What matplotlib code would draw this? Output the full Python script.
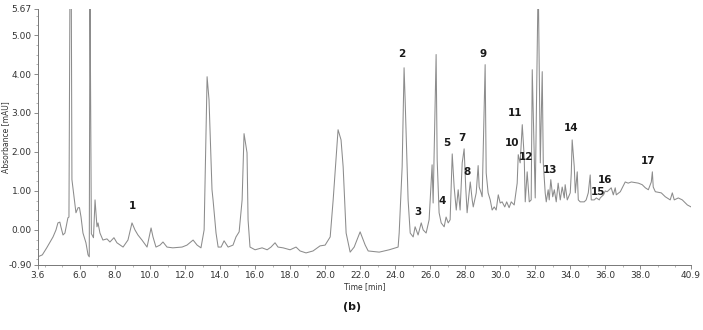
import numpy as np
import matplotlib
matplotlib.use("Agg")
import matplotlib.pyplot as plt
from matplotlib.ticker import MultipleLocator

# chromatogram trace: time (min) and absorbance (mAU)
time = [3.60, 3.85, 4.10, 4.46, 4.63, 4.74, 4.85, 4.91, 5.03, 5.14, 5.31, 5.37,
        5.43, 5.50, 5.54, 5.66, 5.77, 5.89, 5.97, 6.06, 6.17, 6.34, 6.46, 6.53,
        6.57, 6.65, 6.69, 6.77, 6.86, 6.97, 7.03, 7.14, 7.31, 7.54, 7.71, 7.94,
        8.11, 8.46, 8.74, 8.97, 9.14, 9.31, 9.54, 9.83, 10.06, 10.17, 10.34,
        10.57, 10.74, 10.97, 11.30, 11.83, 12.11, 12.46, 12.69, 12.91, 13.09,
        13.26, 13.37, 13.54, 13.60, 13.77, 13.89, 14.06, 14.23, 14.46, 14.74,
        14.91, 15.09, 15.26, 15.37, 15.54, 15.60, 15.71, 16.00, 16.40, 16.69,
        16.91, 17.14, 17.31, 17.60, 18.00, 18.34, 18.57, 18.91, 19.31, 19.71,
        20.00, 20.29, 20.46, 20.74, 20.91, 21.03, 21.20, 21.43, 21.66, 22.00,
        22.29, 22.46, 23.09, 23.66, 24.17, 24.23, 24.40, 24.51, 24.57, 24.74,
        24.86, 25.03, 25.14, 25.31, 25.49, 25.60, 25.77, 25.94, 26.11, 26.17,
        26.34, 26.40, 26.51, 26.63, 26.80, 26.91, 27.03, 27.14, 27.26, 27.37,
        27.49, 27.60, 27.71, 27.83, 27.94, 28.03, 28.11, 28.29, 28.40, 28.46,
        28.63, 28.74, 28.80, 28.91, 28.97, 29.14, 29.20, 29.31, 29.43, 29.54,
        29.66, 29.77, 29.89, 30.00, 30.11, 30.26, 30.37, 30.51, 30.63, 30.80,
        30.97, 31.03, 31.14, 31.26, 31.37, 31.43, 31.54, 31.66, 31.77, 31.83,
        32.00, 32.17, 32.29, 32.40, 32.46, 32.57, 32.63, 32.74, 32.80, 32.89,
        33.00, 33.09, 33.20, 33.31, 33.43, 33.54, 33.66, 33.71, 33.83, 34.00,
        34.06, 34.11, 34.23, 34.29, 34.40, 34.46, 34.57, 34.80, 34.91, 35.03,
        35.14, 35.20, 35.37, 35.49, 35.66, 35.71, 35.90, 36.00, 36.11, 36.34,
        36.46, 36.57, 36.63, 36.86, 37.14, 37.31, 37.49, 37.89, 38.11, 38.29,
        38.46, 38.63, 38.69, 38.74, 38.86, 39.20, 39.43, 39.71, 39.83, 39.94,
        40.17, 40.40, 40.69, 40.90]
absorbance = [-0.69, -0.64, -0.46, -0.18, 0.00, 0.18, 0.20, 0.08, -0.13, -0.08, 0.31, 0.33,
              6.50, 6.50, 1.29, 0.85, 0.44, 0.57, 0.57, 0.33, -0.08, -0.33, -0.64, -0.69,
              6.50, -0.10, -0.13, -0.20, 0.77, 0.08, 0.18, -0.08, -0.26, -0.23, -0.31, -0.20,
              -0.33, -0.44, -0.26, 0.18, 0.00, -0.13, -0.26, -0.44, 0.05, -0.18, -0.44,
              -0.39, -0.31, -0.44, -0.46, -0.44, -0.39, -0.26, -0.39, -0.46, 0.00,
              3.93, 3.34, 1.03, 0.77, -0.08, -0.44, -0.44, -0.28, -0.44, -0.39,
              -0.18, -0.05, 0.77, 2.47, 1.98, 0.26, -0.44, -0.51, -0.46, -0.51,
              -0.44, -0.33, -0.44, -0.46, -0.51, -0.44, -0.54, -0.59, -0.54, -0.41,
              -0.39, -0.18, 0.77, 2.57, 2.31, 1.62, -0.08, -0.57, -0.44, -0.05,
              -0.39, -0.54, -0.57, -0.51, -0.44, -0.08, 1.62, 4.16, 3.34, 0.77,
              -0.08, -0.18, 0.08, -0.13, 0.18, 0.00, -0.08, 0.26, 1.67, 0.69,
              4.50, 1.80, 0.44, 0.18, 0.08, 0.33, 0.18, 0.26, 1.95, 1.10,
              0.51, 1.03, 0.51, 1.72, 2.08, 1.10, 0.44, 1.23, 0.77, 0.59,
              0.95, 1.65, 1.10, 0.95, 0.85, 4.24, 1.46, 0.95, 0.77, 0.51,
              0.59, 0.51, 0.90, 0.69, 0.72, 0.59, 0.72, 0.57, 0.72, 0.64,
              1.20, 1.93, 1.72, 2.70, 1.88, 0.72, 1.49, 0.72, 0.77, 4.11,
              0.82, 6.50, 1.72, 4.06, 1.72, 0.95, 0.72, 1.03, 0.77, 1.29,
              0.85, 1.03, 0.72, 1.20, 0.77, 1.10, 0.82, 1.16, 0.77, 0.95,
              1.46, 2.31, 1.62, 0.95, 1.49, 0.77, 0.72, 0.72, 0.77, 0.95,
              1.41, 0.77, 0.77, 0.82, 0.77, 0.82, 0.90, 1.00, 0.98, 1.08,
              0.90, 1.08, 0.90, 0.98, 1.23, 1.20, 1.23, 1.20, 1.16, 1.08,
              1.03, 1.23, 1.49, 1.10, 0.98, 0.95, 0.85, 0.77, 0.95, 0.77,
              0.82, 0.77, 0.64, 0.59]

# peak numbers and where their labels sit
peak_labels = ["1", "2", "3", "4", "5", "7", "8", "9", "10", "11", "12",
               "13", "14", "15", "16", "17"]
label_t = [8.97, 24.40, 25.31, 26.69, 26.97, 27.83, 28.11, 29.03, 30.69, 30.86,
           31.49, 32.86, 34.06, 35.60, 36.00, 38.46]
label_v = [0.62, 4.52, 0.46, 0.75, 2.24, 2.37, 1.49, 4.52, 2.24, 3.01,
           1.88, 1.54, 2.62, 0.98, 1.29, 1.77]

x_ticks = [3.6, 6.0, 8.0, 10.0, 12.0, 14.0, 16.0, 18.0, 20.0, 22.0, 24.0,
           26.0, 28.0, 30.0, 32.0, 34.0, 36.0, 38.0, 40.9]
y_ticks = [-0.90, 0.00, 1.00, 2.00, 3.00, 4.00, 5.00, 5.67]

fig = plt.figure(figsize=(7.03, 3.30), dpi=100)
ax = fig.add_axes([0.054, 0.197, 0.929, 0.776])

ax.plot(time, absorbance, color='#8c8c8c', lw=0.75)

for lab, t, v in zip(peak_labels, label_t, label_v):
    ax.text(t, v, lab, ha='center', va='center', fontsize=7.5,
            fontweight='bold', color='#1a1a1a')

ax.set_xlim(3.6, 40.9)
ax.set_ylim(-0.90, 5.67)
ax.set_xticks(x_ticks)
ax.set_xticklabels([f"{t:.1f}" for t in x_ticks])
ax.set_yticks(y_ticks)
ax.set_yticklabels([f"{v:.2f}" for v in y_ticks])
ax.xaxis.set_minor_locator(MultipleLocator(1.0))
ax.yaxis.set_minor_locator(MultipleLocator(0.25))
ax.tick_params(axis='both', which='major', labelsize=6.5, length=3,
               width=0.6, color='#777777', labelcolor='#333333', pad=1.5)
ax.tick_params(axis='both', which='minor', length=1.5, width=0.5, color='#999999')

for side in ['top', 'right']:
    ax.spines[side].set_visible(False)
for side in ['left', 'bottom']:
    ax.spines[side].set_color('#777777')
    ax.spines[side].set_linewidth(0.7)

ax.set_xlabel('Time [min]', fontsize=5.5, color='#333333', labelpad=1)
ax.set_ylabel('Absorbance [mAU]', fontsize=5.5, color='#333333')
ax.yaxis.set_label_coords(-0.043, 0.5)

fig.text(0.501, 0.07, '(b)', ha='center', va='center', fontsize=8,
         fontweight='bold', color='#1a1a1a')

fig.savefig('out.png', dpi=100)
